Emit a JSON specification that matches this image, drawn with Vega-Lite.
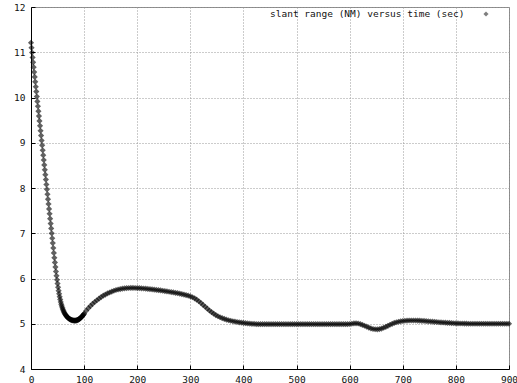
{
  "$schema": "https://vega.github.io/schema/vega-lite/v6.json",
  "width": 478,
  "height": 362,
  "autosize": {"type": "none"},
  "padding": {"left": 31, "top": 7, "right": 8, "bottom": 14},
  "background": "white",
  "config": {"view": {"stroke": "#888", "strokeWidth": 1}, "font": "DejaVu Sans Mono"},
  "data": {"values": [
    {"t":0,"r":11.21},{"t":1,"r":11.102},{"t":2,"r":10.994},{"t":3,"r":10.886},{"t":4,"r":10.778},{"t":5,"r":10.67},{"t":6,"r":10.562},{"t":7,"r":10.454},{"t":8,"r":10.346},{"t":9,"r":10.238},
    {"t":10,"r":10.13},{"t":11,"r":10.022},{"t":12,"r":9.914},{"t":13,"r":9.806},{"t":14,"r":9.698},{"t":15,"r":9.59},{"t":16,"r":9.482},{"t":17,"r":9.374},{"t":18,"r":9.266},{"t":19,"r":9.158},
    {"t":20,"r":9.05},{"t":21,"r":8.942},{"t":22,"r":8.834},{"t":23,"r":8.726},{"t":24,"r":8.618},{"t":25,"r":8.51},{"t":26,"r":8.402},{"t":27,"r":8.294},{"t":28,"r":8.186},{"t":29,"r":8.078},
    {"t":30,"r":7.97},{"t":31,"r":7.862},{"t":32,"r":7.754},{"t":33,"r":7.646},{"t":34,"r":7.538},{"t":35,"r":7.43},{"t":36,"r":7.322},{"t":37,"r":7.214},{"t":38,"r":7.106},{"t":39,"r":6.998},
    {"t":40,"r":6.89},{"t":41,"r":6.782},{"t":42,"r":6.674},{"t":43,"r":6.566},{"t":44,"r":6.458},{"t":45,"r":6.355},{"t":46,"r":6.253},{"t":47,"r":6.155},{"t":48,"r":6.061},{"t":49,"r":5.972},
    {"t":50,"r":5.887},{"t":51,"r":5.807},{"t":52,"r":5.732},{"t":53,"r":5.662},{"t":54,"r":5.597},{"t":55,"r":5.537},{"t":56,"r":5.482},{"t":57,"r":5.432},{"t":58,"r":5.39},{"t":59,"r":5.352},
    {"t":60,"r":5.318},{"t":61,"r":5.288},{"t":62,"r":5.261},{"t":63,"r":5.237},{"t":64,"r":5.216},{"t":65,"r":5.197},{"t":66,"r":5.18},{"t":67,"r":5.165},{"t":68,"r":5.152},{"t":69,"r":5.14},
    {"t":70,"r":5.129},{"t":71,"r":5.119},{"t":72,"r":5.11},{"t":73,"r":5.102},{"t":74,"r":5.095},{"t":75,"r":5.089},{"t":76,"r":5.084},{"t":77,"r":5.08},{"t":78,"r":5.077},{"t":79,"r":5.074},
    {"t":80,"r":5.072},{"t":81,"r":5.071},{"t":82,"r":5.07},{"t":83,"r":5.07},{"t":84,"r":5.071},{"t":85,"r":5.073},{"t":86,"r":5.076},{"t":87,"r":5.08},{"t":88,"r":5.085},{"t":89,"r":5.091},
    {"t":90,"r":5.098},{"t":91,"r":5.106},{"t":92,"r":5.115},{"t":93,"r":5.125},{"t":94,"r":5.136},{"t":95,"r":5.148},{"t":96,"r":5.161},{"t":97,"r":5.175},{"t":98,"r":5.19},{"t":99,"r":5.206},
    {"t":100,"r":5.223},{"t":104,"r":5.29},{"t":108,"r":5.345},{"t":112,"r":5.395},{"t":116,"r":5.44},{"t":120,"r":5.48},{"t":124,"r":5.52},{"t":128,"r":5.555},{"t":132,"r":5.59},{"t":136,"r":5.62},
    {"t":140,"r":5.645},{"t":144,"r":5.67},{"t":148,"r":5.69},{"t":152,"r":5.71},{"t":156,"r":5.73},{"t":160,"r":5.745},{"t":164,"r":5.757},{"t":168,"r":5.767},{"t":172,"r":5.775},{"t":176,"r":5.782},
    {"t":180,"r":5.787},{"t":184,"r":5.79},{"t":188,"r":5.792},{"t":192,"r":5.792},{"t":196,"r":5.791},{"t":200,"r":5.789},{"t":204,"r":5.786},{"t":208,"r":5.783},{"t":212,"r":5.779},{"t":216,"r":5.775},
    {"t":220,"r":5.77},{"t":224,"r":5.765},{"t":228,"r":5.76},{"t":232,"r":5.754},{"t":236,"r":5.748},{"t":240,"r":5.742},{"t":244,"r":5.736},{"t":248,"r":5.729},{"t":252,"r":5.722},{"t":256,"r":5.715},
    {"t":260,"r":5.708},{"t":264,"r":5.7},{"t":268,"r":5.692},{"t":272,"r":5.684},{"t":276,"r":5.675},{"t":280,"r":5.666},{"t":284,"r":5.656},{"t":288,"r":5.645},{"t":292,"r":5.633},{"t":296,"r":5.62},
    {"t":300,"r":5.605},{"t":304,"r":5.586},{"t":308,"r":5.562},{"t":312,"r":5.532},{"t":316,"r":5.497},{"t":320,"r":5.458},{"t":324,"r":5.417},{"t":328,"r":5.375},{"t":332,"r":5.333},{"t":336,"r":5.293},
    {"t":340,"r":5.256},{"t":344,"r":5.222},{"t":348,"r":5.192},{"t":352,"r":5.166},{"t":356,"r":5.143},{"t":360,"r":5.123},{"t":364,"r":5.106},{"t":368,"r":5.091},{"t":372,"r":5.078},{"t":376,"r":5.066},
    {"t":380,"r":5.056},{"t":384,"r":5.047},{"t":388,"r":5.039},{"t":392,"r":5.032},{"t":396,"r":5.025},{"t":400,"r":5.019},{"t":404,"r":5.013},{"t":408,"r":5.008},{"t":412,"r":5.003},{"t":416,"r":4.999},
    {"t":420,"r":4.996},{"t":424,"r":4.993},{"t":428,"r":4.991},{"t":432,"r":4.99},{"t":436,"r":4.99},{"t":440,"r":4.99},{"t":444,"r":4.99},{"t":448,"r":4.99},{"t":452,"r":4.99},{"t":456,"r":4.99},
    {"t":460,"r":4.99},{"t":464,"r":4.99},{"t":468,"r":4.99},{"t":472,"r":4.99},{"t":476,"r":4.99},{"t":480,"r":4.99},{"t":484,"r":4.99},{"t":488,"r":4.99},{"t":492,"r":4.99},{"t":496,"r":4.99},
    {"t":500,"r":4.99},{"t":504,"r":4.99},{"t":508,"r":4.99},{"t":512,"r":4.99},{"t":516,"r":4.99},{"t":520,"r":4.99},{"t":524,"r":4.99},{"t":528,"r":4.99},{"t":532,"r":4.99},{"t":536,"r":4.99},
    {"t":540,"r":4.99},{"t":544,"r":4.99},{"t":548,"r":4.99},{"t":552,"r":4.99},{"t":556,"r":4.99},{"t":560,"r":4.99},{"t":564,"r":4.99},{"t":568,"r":4.99},{"t":572,"r":4.99},{"t":576,"r":4.99},
    {"t":580,"r":4.99},{"t":584,"r":4.99},{"t":588,"r":4.99},{"t":592,"r":4.99},{"t":596,"r":4.99},{"t":600,"r":4.995},{"t":604,"r":5.0},{"t":608,"r":5.008},{"t":612,"r":5.01},{"t":616,"r":5.005},
    {"t":620,"r":4.992},{"t":624,"r":4.975},{"t":628,"r":4.955},{"t":632,"r":4.935},{"t":636,"r":4.915},{"t":640,"r":4.897},{"t":644,"r":4.884},{"t":648,"r":4.878},{"t":652,"r":4.877},{"t":656,"r":4.882},
    {"t":660,"r":4.894},{"t":664,"r":4.911},{"t":668,"r":4.931},{"t":672,"r":4.954},{"t":676,"r":4.977},{"t":680,"r":4.999},{"t":684,"r":5.018},{"t":688,"r":5.033},{"t":692,"r":5.045},{"t":696,"r":5.054},
    {"t":700,"r":5.061},{"t":704,"r":5.066},{"t":708,"r":5.069},{"t":712,"r":5.071},{"t":716,"r":5.072},{"t":720,"r":5.072},{"t":724,"r":5.071},{"t":728,"r":5.07},{"t":732,"r":5.068},{"t":736,"r":5.065},
    {"t":740,"r":5.062},{"t":744,"r":5.058},{"t":748,"r":5.054},{"t":752,"r":5.05},{"t":756,"r":5.046},{"t":760,"r":5.042},{"t":764,"r":5.038},{"t":768,"r":5.034},{"t":772,"r":5.03},{"t":776,"r":5.027},
    {"t":780,"r":5.024},{"t":784,"r":5.021},{"t":788,"r":5.018},{"t":792,"r":5.015},{"t":796,"r":5.012},{"t":800,"r":5.01},{"t":804,"r":5.008},{"t":808,"r":5.006},{"t":812,"r":5.005},{"t":816,"r":5.004},
    {"t":820,"r":5.003},{"t":824,"r":5.0},{"t":828,"r":5.0},{"t":832,"r":5.0},{"t":836,"r":5.0},{"t":840,"r":5.0},{"t":844,"r":5.0},{"t":848,"r":5.0},{"t":852,"r":5.0},{"t":856,"r":5.0},
    {"t":860,"r":5.0},{"t":864,"r":5.0},{"t":868,"r":5.0},{"t":872,"r":5.0},{"t":876,"r":5.0},{"t":880,"r":5.0},{"t":884,"r":5.0},{"t":888,"r":5.0},{"t":892,"r":5.0},{"t":896,"r":5.0},
    {"t":900,"r":5.0}
  ]},
  "mark": {"type": "point", "shape": "diamond", "filled": true, "size": 38, "color": "#000", "opacity": 0.62},
  "encoding": {
    "x": {
      "field": "t", "type": "quantitative",
      "scale": {"domain": [0, 900], "nice": false, "zero": false},
      "axis": {
        "title": null, "values": [0, 100, 200, 300, 400, 500, 600, 700, 800, 900],
        "grid": true, "gridDash": [1, 2], "gridColor": "#999", "gridOpacity": 1,
        "domainColor": "#000", "tickSize": -4, "tickColor": "#000",
        "labelFont": "DejaVu Sans Mono", "labelFontSize": 9.5, "labelColor": "#111",
        "labelPadding": 9, "labelFlush": false, "labelOverlap": false
      }
    },
    "y": {
      "field": "r", "type": "quantitative",
      "scale": {"domain": [4, 12], "nice": false, "zero": false},
      "axis": {
        "title": null, "values": [4, 5, 6, 7, 8, 9, 10, 11, 12],
        "grid": true, "gridDash": [1, 2], "gridColor": "#999", "gridOpacity": 1,
        "domainColor": "#000", "tickSize": -4, "tickColor": "#000",
        "labelFont": "DejaVu Sans Mono", "labelFontSize": 9.5, "labelColor": "#111",
        "labelPadding": 10, "labelFlush": false, "labelOverlap": false
      }
    },
    "shape": {
      "datum": "slant range (NM) versus time (sec)",
      "scale": {"range": ["diamond"]},
      "legend": {
        "orient": "none", "legendX": 239, "legendY": 2,
        "title": "slant range (NM) versus time (sec)", "titleOrient": "left", "titleLimit": 0,
        "titleFont": "DejaVu Sans Mono", "titleFontSize": 9.5, "titleFontWeight": "normal",
        "titleColor": "#111", "titlePadding": 16, "titleBaseline": "middle",
        "labelExpr": "''", "symbolSize": 26, "symbolOpacity": 0.5
      }
    }
  }
}
